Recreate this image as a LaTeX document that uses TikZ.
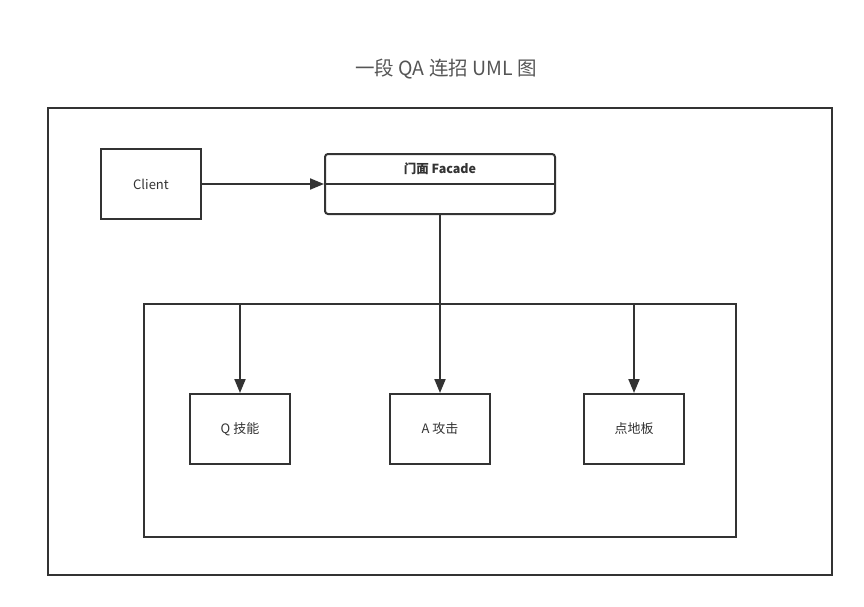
\documentclass[tikz,border=0pt]{standalone}
\usepackage{fontspec}
\setmainfont{Noto Sans CJK SC}
\usetikzlibrary{arrows.meta,positioning}
\definecolor{linegray}{HTML}{333333}
\definecolor{titlegray}{HTML}{555555}
\tikzset{
  box/.style={draw=linegray, line width=2pt, minimum width=100pt, minimum height=70pt,
    inner sep=0pt, text=linegray, font=\fontsize{13}{15}\selectfont},
  frame/.style={draw=linegray, line width=2pt, inner sep=0pt},
  link/.style={draw=linegray, line width=2pt, -{Triangle[length=14pt,width=11pt]}},
  wire/.style={draw=linegray, line width=2pt},
}
\begin{document}
\begin{tikzpicture}[x=1pt,y=-1pt]
\useasboundingbox (0,0) rectangle (864,607);
% title
\node[text=titlegray, font=\fontsize{19.5}{22}\selectfont] (title) at (446,69) {一段 QA 连招 UML 图};
% frames
\node[frame, minimum width=784pt, minimum height=467pt] (outer) at (440,341.5) {};
\node[frame, minimum width=592pt, minimum height=233pt] (group) at (440,420.5) {};
% client and facade
\node[box] (client) at (151,184) {Client};
\node[box, minimum width=230pt, minimum height=60pt, rounded corners=3pt] (facade) at (440,184) {};
\node[text=linegray, font=\fontsize{12.5}{15}\selectfont\bfseries] (facadename) at (440,169) {门面 Facade};
\draw[wire] (facade.west) -- (facade.east);
\draw[link] (client.east) -- (facade.west);
% subsystems
\node[box] (qskill) at (240,429) {Q 技能};
\node[box] (aattack) at (440,429) {A 攻击};
\node[box] (floor) at (634,429) {点地板};
\draw[link] (facade.south) -- (aattack.north);
\draw[link] (group.north -| qskill.north) -- (qskill.north);
\draw[link] (group.north -| floor.north) -- (floor.north);
\end{tikzpicture}
\end{document}
